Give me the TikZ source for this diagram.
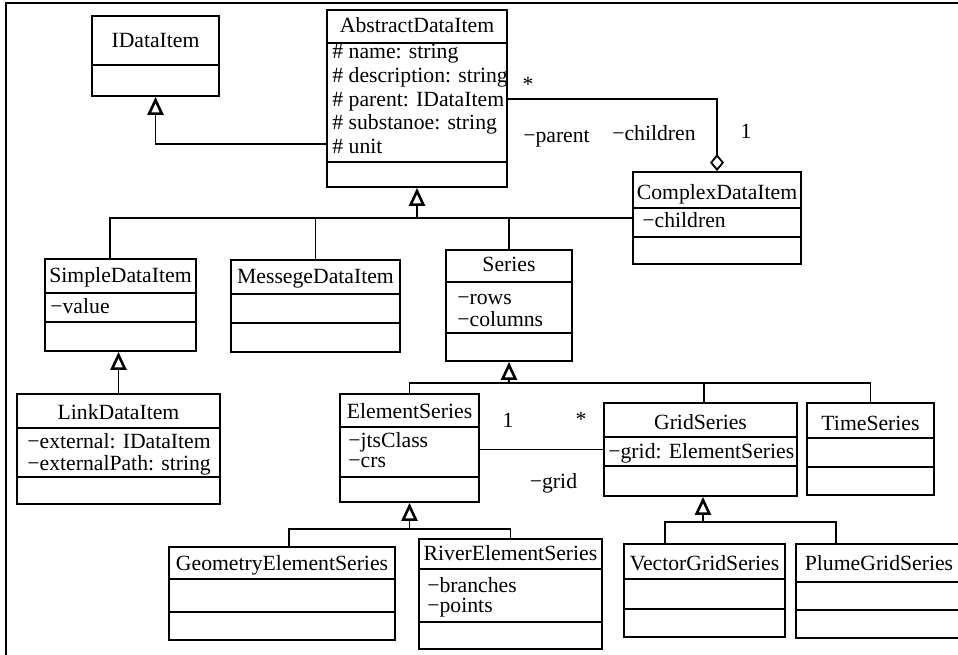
\documentclass[tikz,border=0pt]{standalone}
\usepackage{fontspec}
\setmainfont{Liberation Serif}
\usetikzlibrary{arrows.meta,fit}

% separator line inside a class box
\newcommand{\clsrule}[2]{\draw[cls] (#1.west |- 0,#2) -- (#1.east |- 0,#2);}

\begin{document}
\begin{tikzpicture}[
  x=0.5pt, y=-0.5pt,
  font=\fontsize{10.85}{11}\selectfont,
  cls/.style={draw, line width=0.9pt, inner sep=0pt},
  title/.style={inner sep=0pt, text height=7.2pt, text depth=0pt},
  attr/.style={title, anchor=west},
  lbl/.style={title},
  conn/.style={draw, line width=0.8pt},
  gen/.style={conn, -{Triangle[open, length=9pt, width=8pt, line width=1.3pt]}},
  aggr/.style={conn, -{Diamond[open, length=8.5pt, width=7pt, line width=0.9pt]}}
]
\useasboundingbox (0,0) rectangle (958,654);
\draw[conn] (6,660) -- (6,3) -- (965,3);

% TOP ROW
\node[cls, fit={(92,16)(219,96)}] (idata) {};
\clsrule{idata}{65}
\node[title] at (idata.north |- 0,40.5) {IDataItem};

\node[cls, fit={(327,10)(507,187)}] (abstract) {};
\clsrule{abstract}{43}
\clsrule{abstract}{162}
\node[title] at (abstract.north |- 0,25) {AbstractDataItem};
\node[attr] at (332,51.5)  {\# name: string};
\node[attr] at (332,75.2)  {\# description: string};
\node[attr] at (332,99)    {\# parent: IDataItem};
\node[attr] at (332,122.7) {\# substanoe: string};
\node[attr] at (332,146.5) {\# unit};

\node[cls, fit={(633,172)(801,264)}] (complex) {};
\clsrule{complex}{208}
\clsrule{complex}{237}
\node[title] at (complex.north |- 0,192.5) {ComplexDataItem};
\node[attr] at (642,220.5) {−children};

% SECOND ROW
\node[cls, fit={(45,259)(196,351)}] (simple) {};
\clsrule{simple}{293}
\clsrule{simple}{322}
\node[title] at (simple.north |- 0,275.5) {SimpleDataItem};
\node[attr] at (50,306.5) {−value};

\node[cls, fit={(231,260)(400,352)}] (messege) {};
\clsrule{messege}{294}
\clsrule{messege}{323}
\node[title] at (messege.north |- 0,276) {MessegeDataItem};

\node[cls, fit={(446,250)(572,361)}] (series) {};
\clsrule{series}{282}
\clsrule{series}{333}
\node[title] at (series.north |- 0,264.5) {Series};
\node[attr] at (457,297) {−rows};
\node[attr] at (457,319) {−columns};

% THIRD ROW
\node[cls, fit={(17,394)(220,504)}] (link) {};
\clsrule{link}{428}
\clsrule{link}{477}
\node[title] at (link.north |- 0,412) {LinkDataItem};
\node[attr] at (27,441) {−external: IDataItem};
\node[attr] at (27,463) {−externalPath: string};

\node[cls, fit={(340,394)(479,502)}] (element) {};
\clsrule{element}{427}
\clsrule{element}{477}
\node[title] at (element.north |- 0,411) {ElementSeries};
\node[attr] at (348,440) {−jtsClass};
\node[attr] at (348,460) {−crs};

\node[cls, fit={(604,403)(797,496)}] (grid) {};
\clsrule{grid}{437}
\clsrule{grid}{466}
\node[title] at (grid.north |- 0,422) {GridSeries};
\node[attr] at (608,451) {−grid: ElementSeries};

\node[cls, fit={(807,403)(934,495)}] (time) {};
\clsrule{time}{438}
\clsrule{time}{467}
\node[title] at (time.north |- 0,423) {TimeSeries};

% BOTTOM ROW
\node[cls, fit={(169,547)(395,640)}] (geometry) {};
\clsrule{geometry}{579}
\clsrule{geometry}{612}
\node[title] at (geometry.north |- 0,563) {GeometryElementSeries};

\node[cls, fit={(419,539)(602,649)}] (river) {};
\clsrule{river}{569}
\clsrule{river}{622}
\node[title] at (river.north |- 0,553.5) {RiverElementSeries};
\node[attr] at (427,585) {−branches};
\node[attr] at (427,605) {−points};

\node[cls, fit={(624,544)(785,637)}] (vector) {};
\clsrule{vector}{579}
\clsrule{vector}{609}
\node[title] at (vector.north |- 0,563) {VectorGridSeries};

\node[cls, fit={(796,544)(962,638)}] (plume) {};
\clsrule{plume}{582}
\clsrule{plume}{610}
\node[title] at (plume.north |- 0,563) {PlumeGridSeries};

% INHERITANCE
\draw[gen] (abstract.west |- 0,144) -| (idata.south);

\draw[conn] (simple.north -| 110,0) |- (complex.west);
\draw[conn] (messege.north) -- (messege.north |- complex.west);
\draw[conn] (series.north) -- (series.north |- complex.west);
\draw[gen] (abstract.south |- complex.west) -- (abstract.south);

\draw[gen] (link.north) -- (link.north |- simple.south);

\coordinate (sbus) at (series.south |- 0,383);
\draw[conn] (element.north) |- (sbus) -| (time.north);
\draw[conn] (grid.north -| 704,0) -- (sbus -| 704,0);
\draw[gen] (sbus) -- (series.south);

\coordinate (ebus) at (element.south |- 0,529);
\draw[conn] (geometry.north -| 289,0) |- (ebus) -| (river.north);
\draw[gen] (ebus) -- (element.south);

\coordinate (gbus) at (703,522);
\draw[conn] (vector.north -| 665,0) |- (gbus) -| (plume.north -| 836,0);
\draw[gen] (gbus) -- (gbus |- grid.south);

% ASSOCIATIONS
\draw[aggr] (abstract.east |- 0,99) -| (complex.north);
\node[lbl] at (528,84) {*};
\node[lbl] at (556.5,135) {−parent};
\node[lbl] at (654,133) {−children};
\node[lbl] at (746,131) {1};

\draw[conn, line width=0.5pt] (element.east |- 0,449) -- (grid.west |- 0,449);
\node[lbl] at (508,420) {1};
\node[lbl] at (581,419) {*};
\node[lbl] at (553.5,481) {−grid};

\end{tikzpicture}
\end{document}
